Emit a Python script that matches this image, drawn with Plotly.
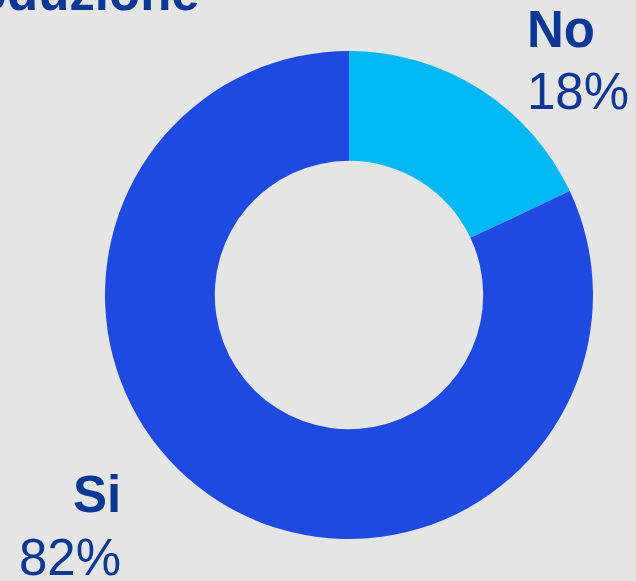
import plotly.graph_objects as go

W, H = 636, 581

# Survey answers
categories = ["No", "Si"]
shares = [18, 82]
title_text = "Produzione"

slice_colors = ["#00b9f4", "#1f4ae2"]
text_color = "#0a3894"
bg = "#e5e5e5"

# Donut geometry in pixels
cx, cy_top, radius = 349, 295, 244
cy = H - cy_top

fig = go.Figure(go.Pie(
    labels=categories,
    values=shares,
    hole=0.55,
    sort=False,
    direction="clockwise",
    rotation=0,
    marker=dict(colors=slice_colors, line=dict(width=0)),
    textinfo="none",
    hoverinfo="label+percent",
    domain=dict(x=[(cx - radius) / W, (cx + radius) / W],
                y=[(cy - radius) / H, (cy + radius) / H]),
    showlegend=False,
))

FS = 51
annotations = []

def add_label(name, value, x, y_name, y_val, align):
    annotations.append(dict(
        x=x / W, y=1 - y_name / H, xref="paper", yref="paper",
        text=f"<b>{name}</b>", showarrow=False, xanchor=align, yanchor="bottom",
        font=dict(family="Liberation Sans, Arial", size=FS, color=text_color)))
    annotations.append(dict(
        x=x / W, y=1 - y_val / H, xref="paper", yref="paper",
        text=f"{value}%", showarrow=False, xanchor=align, yanchor="bottom",
        font=dict(family="Liberation Sans, Arial", size=FS, color=text_color)))

add_label(categories[0], shares[0], 525, 60, 122, "left")
add_label(categories[1], shares[1], 123, 525, 588, "right")

annotations.append(dict(
    x=202 / W, y=1 - 23 / H, xref="paper", yref="paper",
    text=f"<b>{title_text}</b>", showarrow=False, xanchor="right", yanchor="bottom",
    font=dict(family="Liberation Sans, Arial", size=FS, color=text_color)))

fig.update_layout(
    width=W, height=H,
    margin=dict(l=0, r=0, t=0, b=0),
    paper_bgcolor=bg, plot_bgcolor=bg,
    annotations=annotations,
)

fig.write_html("out.html")
